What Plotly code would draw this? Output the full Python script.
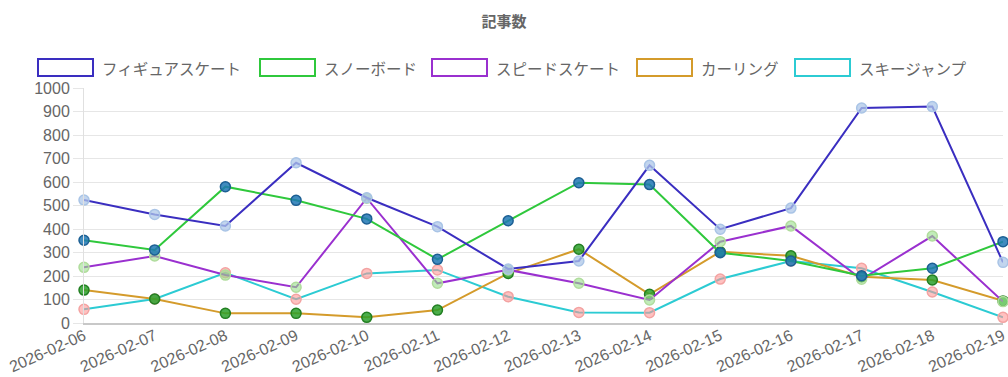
import plotly.graph_objects as go

dates = ["2026-02-06", "2026-02-07", "2026-02-08", "2026-02-09", "2026-02-10",
         "2026-02-11", "2026-02-12", "2026-02-13", "2026-02-14", "2026-02-15",
         "2026-02-16", "2026-02-17", "2026-02-18", "2026-02-19"]

figure_skate = [523, 462, 413, 682, 533, 410, 230, 264, 671, 399, 489, 915, 921, 258]
snowboard = [352, 311, 580, 522, 443, 271, 435, 597, 589, 299, 264, 201, 233, 346]
speed_skate = [237, 285, 204, 152, 531, 169, 226, 169, 98, 346, 413, 186, 370, 91]
curling = [140, 102, 41, 41, 24, 55, 211, 314, 122, 303, 286, 197, 183, 94]
ski_jump = [58, 102, 214, 101, 211, 226, 112, 45, 44, 187, 264, 233, 132, 24]

series_names = ["フィギュアスケート", "スノーボード", "スピードスケート", "カーリング", "スキージャンプ"]
series_values = [figure_skate, snowboard, speed_skate, curling, ski_jump]

line_colors = ["#3a2ec0", "#2fc83c", "#9a30cf", "#d49b2b", "#2ccbd3"]
marker_fills = ["rgba(174,199,232,0.75)", "rgba(31,119,180,0.85)", "rgba(152,223,138,0.6)",
                "rgba(44,160,44,0.85)", "rgba(255,152,150,0.6)"]
marker_lines = ["#a9c4e6", "#1c5f93", "#b0dc9c", "#227f22", "#f3a3a2"]

fig = go.Figure()
for i in reversed(range(len(series_names))):
    fig.add_trace(go.Scatter(
        x=dates, y=series_values[i], name=series_names[i], mode="lines+markers",
        line=dict(color=line_colors[i], width=2),
        marker=dict(size=10, color=marker_fills[i], line=dict(color=marker_lines[i], width=1.5)),
        cliponaxis=False, showlegend=False,
    ))

# plot area in pixels
L, R, T, B = 84, 1003, 88, 323
W, H = R - L, B - T

def px(x):
    return (x - L) / W

def py(y):
    return (B - y) / H

box_lefts = [38, 260, 432, 637, 795]
shapes = []
annotations = []
for i, name in enumerate(series_names):
    x0 = box_lefts[i]
    shapes.append(dict(type="rect", xref="paper", yref="paper",
                       x0=px(x0), x1=px(x0 + 55), y0=py(76), y1=py(59),
                       line=dict(color=line_colors[i], width=2),
                       fillcolor="rgba(255,255,255,0)"))
    annotations.append(dict(xref="paper", yref="paper", x=px(x0 + 62), y=py(67.5),
                            xanchor="left", yanchor="middle", showarrow=False,
                            text=name,
                            font=dict(family="Noto Sans CJK JP", size=15.5, color="#666666")))

fig.update_layout(
    width=1008, height=377,
    margin=dict(l=L, r=1008 - R, t=T, b=377 - B),
    paper_bgcolor="white", plot_bgcolor="white",
    title=dict(text="<b>記事数</b>", x=0.5, xanchor="center", y=1 - 22 / 377, yanchor="middle",
               font=dict(family="Noto Sans CJK JP", size=15, color="#666666")),
    shapes=shapes, annotations=annotations,
    xaxis=dict(type="category", range=[0, len(dates) - 1], showgrid=False,
               tickangle=-24, tickfont=dict(family="Liberation Sans", size=16, color="#666666"),
               showline=True, linecolor="#c8c8c8", linewidth=1.5,
               ticks="", ticklabelstandoff=-4, automargin=False),
    yaxis=dict(range=[0, 1000], dtick=100, showgrid=True, gridcolor="#e6e6e6", gridwidth=1,
               tickfont=dict(family="Liberation Sans", size=16, color="#666666"),
               showline=True, linecolor="#e0e0e0", linewidth=1, zeroline=False,
               ticks="outside", ticklen=10, tickcolor="#e6e6e6", automargin=False),
    showlegend=False,
)

fig.write_html("out.html", config={"displayModeBar": False},
               post_script="document.body.style.margin='0';document.body.style.overflow='hidden';")
